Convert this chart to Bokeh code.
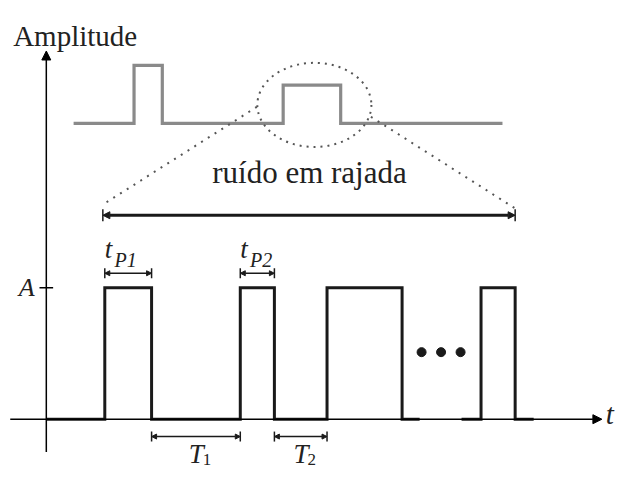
from bokeh.plotting import figure
from bokeh.models import Arrow, NormalHead, TeeHead, Range1d
from bokeh.core.properties import value
from bokeh.embed import file_html
from bokeh.resources import INLINE

# ---------------- data (time units, amplitude units) ----------------
A = 1.0
pulse_starts = [6.0, 19.9, 28.8, 44.6]
pulse_ends = [10.8, 23.4, 36.5, 48.1]
train_breaks = [38.3, 42.6]      # gap in baseline before the last pulse
train_end = 50.0

noise_base = 2.25
noise_starts = [9.0, 24.3]
noise_ends = [11.9, 30.2]
noise_tops = [2.69, 2.54]
noise_span = [2.8, 46.8]

dots_t = [38.5, 40.5, 42.5]
dots_y = [0.51, 0.51, 0.51]

label_tp = ["P1", "P2"]
label_T = ["1", "2"]

# ---------------- figure ----------------
p = figure(width=617, height=470, output_backend="svg", toolbar_location=None,
           x_range=Range1d(-4.7, 58.6), y_range=Range1d(-0.390, 3.184),
           min_border=0)
p.axis.visible = False
p.grid.visible = False
p.outline_line_color = None
p.background_fill_color = "white"

black = "#1a1a1a"
gray = "#8a8a8a"
dotc = "#555555"

# pulse train (first part, until the gap)
xs, ys = [0.0], [0.0]
for s, e in zip(pulse_starts[:3], pulse_ends[:3]):
    xs += [s, s, e, e]
    ys += [0, A, A, 0]
xs.append(train_breaks[0]); ys.append(0)
p.line(xs, ys, line_color=black, line_width=3, line_join="miter")
xs2 = [train_breaks[1]]; ys2 = [0.0]
for s, e in zip(pulse_starts[3:], pulse_ends[3:]):
    xs2 += [s, s, e, e]
    ys2 += [0, A, A, 0]
xs2.append(train_end); ys2.append(0)
p.line(xs2, ys2, line_color=black, line_width=3, line_join="miter")

# noise burst (gray)
nx, ny = [noise_span[0]], [noise_base]
for s, e, h in zip(noise_starts, noise_ends, noise_tops):
    nx += [s, s, e, e]
    ny += [noise_base, h, h, noise_base]
nx.append(noise_span[1]); ny.append(noise_base)
p.line(nx, ny, line_color=gray, line_width=3.2, line_join="miter")

# dotted zoom ellipse and lines
p.ellipse(x=[27.5], y=[2.39], width=[11.7], height=[0.64], fill_color=None,
          line_color=dotc, line_width=2, line_dash="2 5")
p.line([21.6, 5.8], [2.375, 1.632], line_color=dotc, line_width=2, line_dash="2 6")
p.line([33.3, 48.1], [2.30, 1.603], line_color=dotc, line_width=2, line_dash="2 6")

# axes
p.add_layout(Arrow(end=NormalHead(size=9, fill_color="black", line_color="black"),
                   x_start=-3.7, y_start=0, x_end=57.0, y_end=0,
                   line_width=1.5, line_color="black"))
p.add_layout(Arrow(end=NormalHead(size=9, fill_color="black", line_color="black"),
                   x_start=0, y_start=-0.25, x_end=0, y_end=2.80,
                   line_width=1.5, line_color="black"))
p.segment(x0=[-0.7], y0=[A], x1=[0.7], y1=[A], line_color="black", line_width=1.5)


def dim_arrow(x0, x1, y, lw, hs, ts):
    p.add_layout(Arrow(start=NormalHead(size=hs, fill_color=black, line_color=black),
                       end=NormalHead(size=hs, fill_color=black, line_color=black),
                       x_start=x0, y_start=y, x_end=x1, y_end=y,
                       line_width=lw, line_color=black))
    p.add_layout(Arrow(start=TeeHead(size=ts, line_width=1.5, line_color=black),
                       end=TeeHead(size=ts, line_width=1.5, line_color=black),
                       x_start=x0, y_start=y, x_end=x1, y_end=y,
                       line_width=0, line_alpha=0))


# burst span bar
dim_arrow(5.8, 48.1, 1.551, 3, 7, 12)
# pulse widths
dim_arrow(pulse_starts[0], pulse_ends[0], 1.11, 1.5, 5, 10)
dim_arrow(pulse_starts[1], pulse_ends[1], 1.11, 1.5, 5, 10)
# periods
dim_arrow(pulse_ends[0], pulse_starts[1], -0.132, 1.5, 5, 10)
dim_arrow(pulse_ends[1], pulse_starts[2], -0.132, 1.5, 5, 10)

# dots
p.scatter(dots_t, dots_y, size=9, color=black)

serif = value("Liberation Serif")

# texts
p.text(x=[-3.4], y=[2.912], text=["Amplitude"], text_font=serif,
       text_font_size="29px", text_color="#222222", text_baseline="alphabetic")
p.text(x=[27.0], y=[1.875], text=["ruído em rajada"], text_font=serif,
       text_font_size="31px", text_color="#222222", text_align="center",
       text_baseline="alphabetic")
p.text(x=[-1.2], y=[A], text=["A"], text_font=serif, text_font_style="italic",
       text_font_size="26px", text_color="#222222", text_align="right",
       text_baseline="middle")
p.text(x=[57.4], y=[0.04], text=["t"], text_font=serif, text_font_style="italic",
       text_font_size="29px", text_color="#222222", text_baseline="alphabetic")

# t_P labels
for s, sub in zip(pulse_starts[:2], label_tp):
    p.text(x=[s], y=[1.295], text=["t"], text_font=serif, text_font_style="italic",
           text_font_size="27px", text_color="#222222", text_baseline="alphabetic")
    p.text(x=[s + 1.0], y=[1.21], text=[sub], text_font=serif, text_font_style="italic",
           text_font_size="20px", text_color="#222222", text_baseline="alphabetic")

# T labels
for e, s, sub in zip(pulse_ends[:2], pulse_starts[1:3], label_T):
    c = (e + s) / 2
    p.text(x=[c + 0.8], y=[-0.262], text=["T"], text_font=serif, text_font_style="italic",
           text_font_size="27px", text_color="#222222", text_align="right",
           text_baseline="alphabetic")
    p.text(x=[c + 0.7], y=[-0.305], text=[sub], text_font=serif,
           text_font_size="17px", text_color="#222222", text_baseline="alphabetic")

open("out.html", "w").write(file_html(p, INLINE))
